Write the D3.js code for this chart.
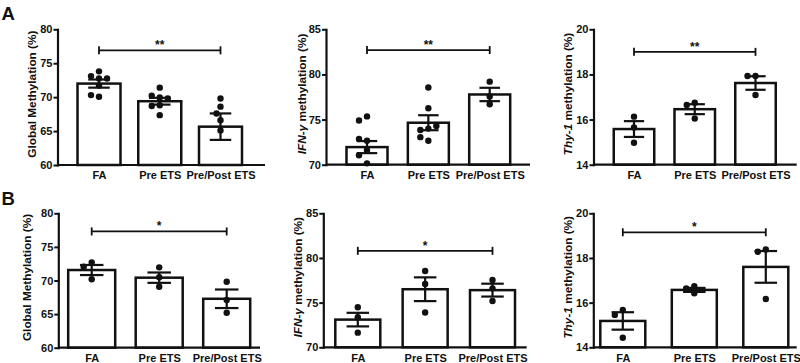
<!DOCTYPE html>
<html>
<head>
<meta charset="utf-8">
<script src="https://cdn.jsdelivr.net/npm/d3@7"></script>
<style>
body { margin: 0; background: #fff; }
svg { display: block; }
</style>
</head>
<body>
<div id="chart"></div>
<script>
// DATA

let groups = ["FA", "Pre ETS", "Pre/Post ETS"];

let globalTicks = [60, 65, 70, 75, 80];
let ifnTicks = [70, 75, 80, 85];
let thyTicks = [14, 16, 18, 20];

// row A
let globalA_means = [72.0, 69.4, 65.65];
let globalA_sem = [0.6, 0.5, 1.95];
let globalA_points = [[73.8, 73.1, 72.75, 72.75, 71.7, 70.05, 70.3], [71.4, 69.95, 70.2, 69.8, 68.8, 68.7, 67.35], [69.8, 68.6, 67.6, 66.6, 65.1]];

let ifnA_means = [71.95, 74.65, 77.78];
let ifnA_sem = [0.67, 0.83, 0.74];
let ifnA_points = [[75.35, 74.9, 72.65, 72.85, 71.6, 71.05, 70.15], [78.55, 76.25, 74.0, 73.85, 74.3, 72.65, 73.05], [79.2, 77.55, 76.7]];

let thyA_means = [15.58, 16.46, 17.62];
let thyA_sem = [0.35, 0.22, 0.3];
let thyA_points = [[16.13, 15.65, 14.97], [16.75, 16.65, 16.05], [17.93, 17.93, 17.09]];

// row B
let globalB_means = [71.56, 70.42, 67.28];
let globalB_sem = [0.75, 0.77, 1.38];
let globalB_points = [[72.7, 72.05, 70.18], [71.96, 70.48, 69.08], [69.82, 67.1, 65.2]];

let ifnB_means = [73.1, 76.5, 76.4];
let ifnB_sem = [0.76, 1.33, 0.72];
let ifnB_points = [[74.48, 73.36, 71.64], [78.54, 77.09, 73.9], [77.54, 76.6, 75.18]];

let thyB_means = [15.18, 16.57, 17.6];
let thyB_sem = [0.39, 0.09, 0.71];
let thyB_points = [[15.67, 15.45, 14.43], [16.74, 16.42, 16.64], [18.38, 18.28, 16.16]];

// significance bracket level and label, FA vs Pre/Post ETS
let sigValue = [76.9, 82.7, 19.0, 77.3, 80.8, 19.15];
let sigLabel = ["**", "**", "**", "*", "*", "*"];

let panelLetters = ["A", "B"];

// CHART AREA
let font = "'Liberation Sans', Arial, sans-serif";
let ink = "#111";

let svg = d3.select("#chart").append("svg")
    .attr("width", 800)
    .attr("height", 363)
    .style("font-family", font)
    .style("font-weight", "bold");

let globalTitle = [["Global Methylation (%)", false]];
let ifnTitle = [["IFN-γ", true], [" methylation (%)", false]];
let thyTitle = [["Thy-1", true], [" methylation (%)", false]];

// panel layout (pixels)
let panels = [
    {means: globalA_means, sem: globalA_sem, points: globalA_points, ticks: globalTicks, title: globalTitle,
     axisX: 57.5, axisEnd: 265, c0: 99, c2: 220.5, bw: 43, yTop: 29.3, yBot: 165, titleX: 31.7},
    {means: ifnA_means, sem: ifnA_sem, points: ifnA_points, ticks: ifnTicks, title: ifnTitle,
     axisX: 326, axisEnd: 530, c0: 367, c2: 489.7, bw: 41, yTop: 29.3, yBot: 164.7, titleX: 301.7},
    {means: thyA_means, sem: thyA_sem, points: thyA_points, ticks: thyTicks, title: thyTitle,
     axisX: 593.5, axisEnd: 796.7, c0: 634, c2: 755.5, bw: 40.5, yTop: 29.3, yBot: 164.7, titleX: 568.3},
    {means: globalB_means, sem: globalB_sem, points: globalB_points, ticks: globalTicks, title: globalTitle,
     axisX: 58.3, axisEnd: 260, c0: 91.7, c2: 226.7, bw: 47, yTop: 213.3, yBot: 347.7, titleX: 26.7},
    {means: ifnB_means, sem: ifnB_sem, points: ifnB_points, ticks: ifnTicks, title: ifnTitle,
     axisX: 323.3, axisEnd: 526.7, c0: 357.8, c2: 492.5, bw: 45, yTop: 213.3, yBot: 347.3, titleX: 298},
    {means: thyB_means, sem: thyB_sem, points: thyB_points, ticks: thyTicks, title: thyTitle,
     axisX: 593.3, axisEnd: 796.7, c0: 622.8, c2: 765.8, bw: 45, yTop: 213.3, yBot: 347.3, titleX: 568}
];

// spread overlapping dots sideways
function dodge(vals, yScale, r) {
    let placed = [];
    return vals.map(v => {
        let py = yScale(v);
        let off = 0;
        for (let k = 0; k < 20; k++) {
            let cand = (k % 2 ? -1 : 1) * Math.ceil(k / 2) * 4;
            let ok = placed.every(q => Math.hypot(q.x - cand, q.y - py) >= 2 * r + 0.4);
            if (ok) { off = cand; break; }
        }
        placed.push({x: off, y: py});
        return off;
    });
}

panels.forEach((p, i) => {
    let g = svg.append("g");

    // SCALES
    let y = d3.scaleLinear()
        .domain(d3.extent(p.ticks))
        .range([p.yBot, p.yTop]);

    let x = d3.scalePoint()
        .domain(groups)
        .range([p.c0, p.c2]);

    let rows = groups.map((d, j) => ({group: d, mean: p.means[j], sem: p.sem[j], points: p.points[j]}));

    // bars
    g.selectAll(".bar")
        .data(rows)
        .enter()
        .append("rect")
        .attr("class", "bar")
        .attr("x", d => x(d.group) - p.bw / 2)
        .attr("y", d => y(d.mean))
        .attr("width", p.bw)
        .attr("height", d => p.yBot - y(d.mean))
        .attr("fill", "#fff")
        .attr("stroke", ink)
        .attr("stroke-width", 2.5);

    // dots
    rows.forEach(d => {
        let offs = dodge(d.points, y, 3.2);
        g.selectAll(null)
            .data(d.points)
            .enter()
            .append("circle")
            .attr("cx", (v, k) => x(d.group) + offs[k])
            .attr("cy", v => y(v))
            .attr("r", 3.2)
            .attr("fill", ink);
    });

    // error bars (mean +/- SEM)
    let err = g.selectAll(".err")
        .data(rows)
        .enter()
        .append("g")
        .attr("class", "err")
        .attr("stroke", ink)
        .attr("stroke-width", 2.2);

    err.append("line")
        .attr("x1", d => x(d.group)).attr("x2", d => x(d.group))
        .attr("y1", d => y(d.mean + d.sem)).attr("y2", d => y(d.mean - d.sem));
    err.append("line")
        .attr("x1", d => x(d.group) - p.bw / 4).attr("x2", d => x(d.group) + p.bw / 4)
        .attr("y1", d => y(d.mean + d.sem)).attr("y2", d => y(d.mean + d.sem));
    err.append("line")
        .attr("x1", d => x(d.group) - p.bw / 4).attr("x2", d => x(d.group) + p.bw / 4)
        .attr("y1", d => y(d.mean - d.sem)).attr("y2", d => y(d.mean - d.sem));

    // AXIS
    let yAxis = d3.axisLeft(y)
        .tickValues(p.ticks)
        .tickFormat(d3.format("d"))
        .tickSize(4)
        .tickSizeOuter(0)
        .tickPadding(1);

    g.append("g")
        .attr("transform", "translate(" + p.axisX + ",0)")
        .call(yAxis)
        .attr("font-family", font)
        .attr("font-size", 11)
        .call(a => a.select(".domain").attr("stroke", ink).attr("stroke-width", 2.2).attr("stroke-linecap", "square"))
        .call(a => a.selectAll(".tick line").attr("stroke", ink).attr("stroke-width", 2))
        .call(a => a.selectAll(".tick text").attr("fill", ink));

    g.append("line")
        .attr("x1", p.axisX)
        .attr("x2", p.axisEnd)
        .attr("y1", p.yBot)
        .attr("y2", p.yBot)
        .attr("stroke", ink)
        .attr("stroke-width", 2.2);

    let xAxis = d3.axisBottom(x)
        .tickSize(0)
        .tickPadding(6.5);

    g.append("g")
        .attr("transform", "translate(0," + p.yBot + ")")
        .call(xAxis)
        .attr("font-family", font)
        .attr("font-size", 11)
        .call(a => a.select(".domain").remove())
        .call(a => a.selectAll(".tick text").attr("fill", ink));

    // axis title
    let title = g.append("text")
        .attr("transform", "translate(" + p.titleX + "," + ((p.yTop + p.yBot) / 2 - 3) + ") rotate(-90)")
        .attr("text-anchor", "middle")
        .attr("dy", "0.35em")
        .attr("font-size", 11.8)
        .attr("fill", ink);
    p.title.forEach(t => {
        title.append("tspan")
            .attr("font-style", t[1] ? "italic" : "normal")
            .text(t[0]);
    });

    // significance bracket
    let sy = y(sigValue[i]);
    let sx0 = x(groups[0]), sx1 = x(groups[2]);
    let sig = g.append("g").attr("stroke", ink).attr("stroke-width", 1.8);
    sig.append("line").attr("x1", sx0).attr("x2", sx1).attr("y1", sy).attr("y2", sy);
    sig.append("line").attr("x1", sx0).attr("x2", sx0).attr("y1", sy - 4).attr("y2", sy + 4);
    sig.append("line").attr("x1", sx1).attr("x2", sx1).attr("y1", sy - 4).attr("y2", sy + 4);

    g.append("text")
        .attr("x", (sx0 + sx1) / 2)
        .attr("y", sy - 1)
        .attr("text-anchor", "middle")
        .attr("font-size", 12)
        .attr("fill", ink)
        .text(sigLabel[i]);
});

// panel letters
svg.selectAll(".letter")
    .data(panelLetters)
    .enter()
    .append("text")
    .attr("class", "letter")
    .attr("x", 1.5)
    .attr("y", (d, i) => i === 0 ? 20 : 205)
    .attr("font-size", 18.5)
    .attr("fill", ink)
    .text(d => d);
</script>
</body>
</html>
